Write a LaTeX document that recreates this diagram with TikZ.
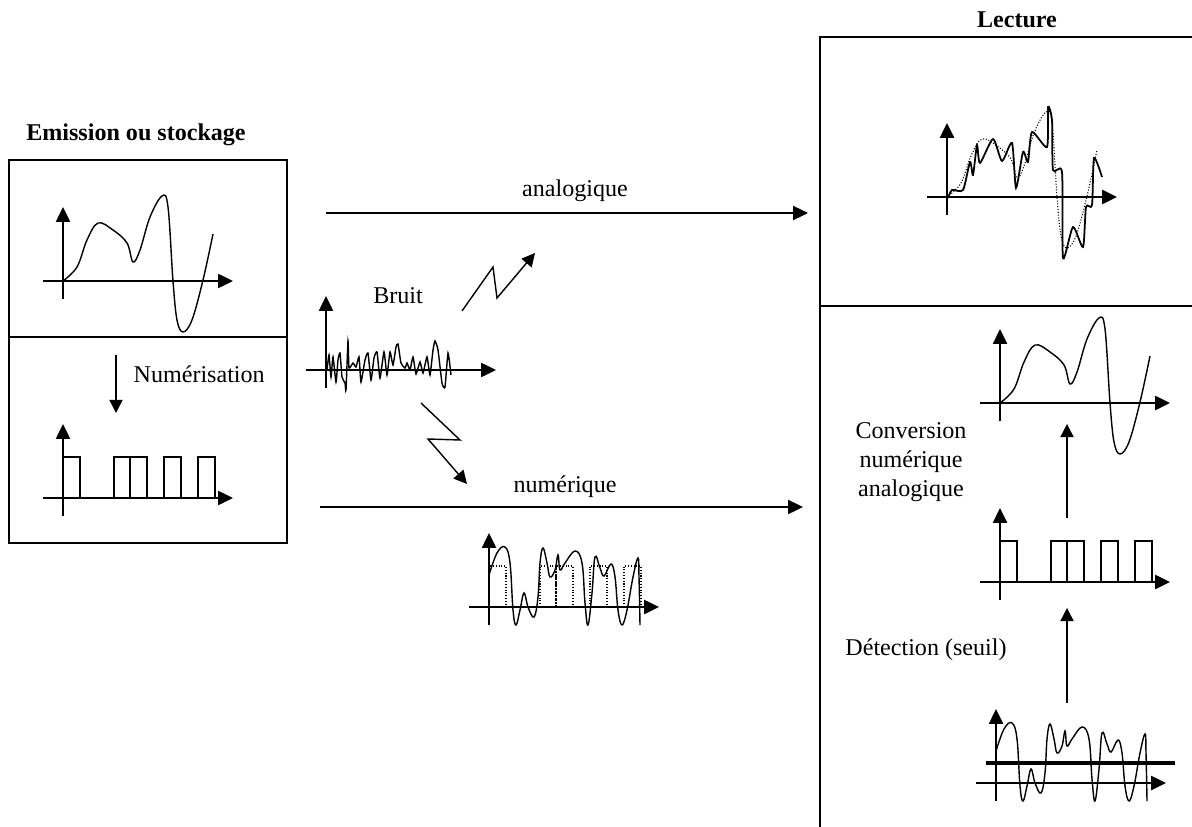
\documentclass[tikz,border=0pt]{standalone}
\usepackage{fontspec}
\setmainfont{Liberation Serif}
\usetikzlibrary{arrows.meta}

\tikzset{
  axes/.pic={
    \draw[axis] (-20,0) -- (170,0);
    \draw[axis] (0,18) -- (0,-74);
  },
  analogcurve/.pic={
    \draw[smooth,tension=0.6] plot coordinates {(0,0) (14,-14) (24,-41) (35,-58) (50,-51) (64,-38) (70,-19) (77,-31)
      (87,-64) (99,-85) (105,-74) (110,0) (114,39) (120,51) (129,39) (140,-1) (150,-47)};
  },
  pulses/.pic={
    \draw (0,0) rectangle (17,-41) (51,0) rectangle (67,-41) (67,0) rectangle (84,-41)
      (101,0) rectangle (118,-41) (135,0) rectangle (152,-41);
  },
  digitalcurve/.pic={
    \draw[smooth,tension=0.65] plot coordinates {(0,-32) (8,-54) (16,-60) (21,-44) (24,3) (27,18) (31,3) (35,-14) (39,0)
      (45,10) (49,-10) (51,-44) (54,-59) (58,-44) (61,-30) (66,-37) (69,-52) (71,-37) (76,-44) (86,-56) (93,-44)
      (96,-4) (99,18) (103,-14) (106,-50) (111,-39) (115,-31) (122,-43) (126,-30) (129,3) (133,18) (138,3)
      (144,-30) (149,-49) (150,-30) (151,18)};
  },
}

\begin{document}
\begin{tikzpicture}[
    x=0.02cm, y=-0.02cm,
    >={Triangle[length=8.5pt,width=8pt]},
    line width=0.8pt,
    every node/.style={font=\fontsize{13.7}{16.5}\selectfont, inner sep=0pt},
    title/.style={font=\fontsize{13.7}{16.5}\selectfont\bfseries},
    axis/.style={->, line width=1.2pt},
    flow/.style={->, line width=1.1pt},
    thinflow/.style={->, line width=0.8pt, >={Triangle[length=7.5pt,width=7.5pt]}},
  ]
  \useasboundingbox (0,0) rectangle (1192,827);

  % Frames
  \node[title] (emis) at (136,135) {Emission ou stockage};
  \draw (9,160) rectangle (287,543);
  \draw (9,337) -- (287,337);
  \node[title] (lect) at (1017,20) {Lecture};
  \draw (1192,37) -- (820,37) -- (820,827);
  \draw (820,306) -- (1192,306);

  % Source: analog signal and its digitised version
  \pic at (63,281) {axes};
  \pic at (63,281) {analogcurve};
  \coordinate (num-s) at (116,355);
  \coordinate (num-e) at (116,413);
  \draw[thinflow] (num-s) -- (num-e);
  \node[anchor=base west] (num-lbl) at (133,382) {Numérisation};
  \pic at (63,498) {pulses};
  \pic at (63,498) {axes};

  % Channels
  \coordinate (ana-s) at (326,213);
  \coordinate (ana-e) at (808,213);
  \draw[flow] (ana-s) -- (ana-e);
  \node[anchor=base] (ana-lbl) at (575,197) {analogique};
  \coordinate (dig-s) at (320,507);
  \coordinate (dig-e) at (803,507);
  \draw[flow] (dig-s) -- (dig-e);
  \node[anchor=base] (dig-lbl) at (565,492) {numérique};

  % Noise and its two paths
  \node[anchor=base] (bruit) at (398,303) {Bruit};
  \pic at (326,370) {axes};
  \draw[smooth,tension=0.3] plot coordinates {(327,370) (329,355) (331,377) (333,357) (336,382) (338,360) (340,353)
    (342,377) (345,383) (346,390) (348,341) (349,368) (353,363) (356,367) (359,357) (361,382) (365,360)
    (368,353) (371,380) (374,358) (377,352) (380,378) (384,352) (387,375) (390,352) (393,365) (396,347)
    (398,344) (401,363) (405,368) (407,363) (410,370) (413,357) (416,374) (420,362) (423,373) (427,357)
    (430,375) (433,350) (435,341) (438,350) (442,383) (445,387) (448,353) (451,375)};
  \coordinate (zu1) at (462,311);
  \coordinate (zu2) at (493,267);
  \coordinate (zu3) at (497,298);
  \coordinate (zu4) at (535,253);
  \draw[thinflow] (zu1) -- (zu2) -- (zu3) -- (zu4);
  \coordinate (zd1) at (421,403);
  \coordinate (zd2) at (460,440);
  \coordinate (zd3) at (428,439);
  \coordinate (zd4) at (467,484);
  \draw[thinflow] (zd1) -- (zd2) -- (zd3) -- (zd4);

  % Received digital signal
  \pic[densely dotted,line width=0.6pt] at (489,607) {pulses};
  \pic at (489,607) {axes};
  \pic at (489,607) {digitalcurve};

  % Reading: analog with noise
  \pic at (947,197) {axes};
  \pic[densely dotted,line width=0.6pt] at (947,197) {analogcurve};
  \draw[line width=1pt,smooth,tension=0.4,shift={(947,197)}] plot coordinates {(1,1) (5,-7) (16,-7) (23,-35) (26,-22)
    (30,-52) (33,-34) (46,-58) (55,-36) (65,-54) (69,-9) (76,-45) (81,-35) (85,-65) (100,-50) (101,-90)
    (105,-77) (106,-27) (115,-25) (116,61) (126,30) (136,50) (139,10) (145,8) (147,-39) (155,-20)};

  % Reading: threshold detection then conversion
  \pic at (1000,403) {axes};
  \pic at (1000,403) {analogcurve};
  \coordinate (conv-s) at (1067,518);
  \coordinate (conv-e) at (1067,424);
  \draw[thinflow] (conv-s) -- (conv-e);
  \node[align=center] (conv-lbl) at (911,462) {Conversion\\numérique\\analogique};
  \pic at (1000,582) {pulses};
  \pic at (1000,582) {axes};
  \coordinate (det-s) at (1067,703);
  \coordinate (det-e) at (1067,608);
  \draw[thinflow] (det-s) -- (det-e);
  \node[anchor=base] (det-lbl) at (926,655) {Détection (seuil)};
  \pic at (996,783) {axes};
  \pic at (996,783) {digitalcurve};
  \coordinate (seuil-s) at (986,763);
  \coordinate (seuil-e) at (1175,763);
  \draw[line width=2.2pt] (seuil-s) -- (seuil-e);
\end{tikzpicture}
\end{document}
